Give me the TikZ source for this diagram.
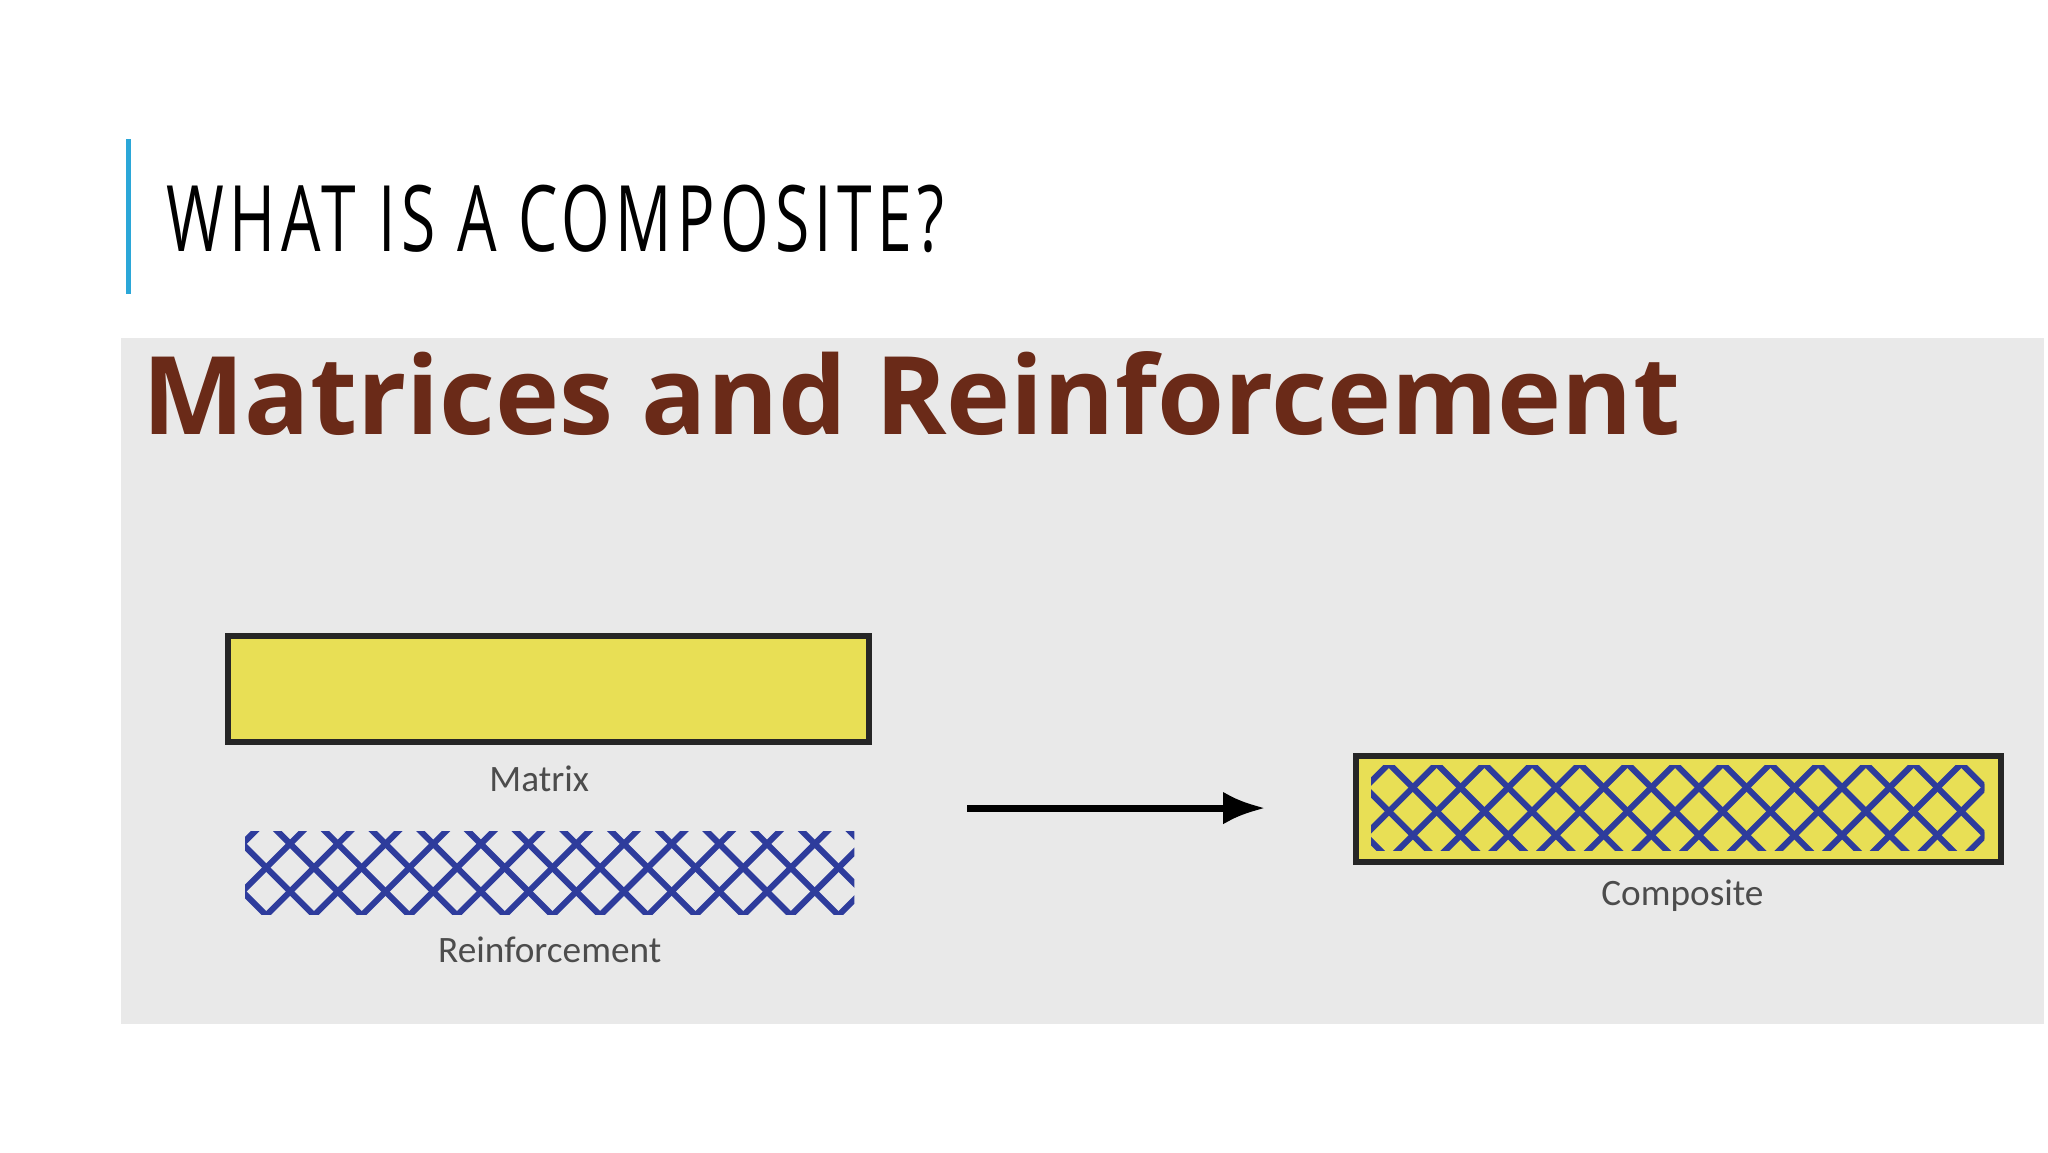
\documentclass[tikz,border=0pt]{standalone}
\usepackage{fontspec}
\usetikzlibrary{arrows.meta}
\setmainfont{Open Sans}
\newfontfamily\titlefont[FakeStretch=0.68,LetterSpace=6]{Open Sans}
\newfontfamily\lblfont{Carlito}
\definecolor{panel}{HTML}{E9E9E9}
\definecolor{mat}{HTML}{E8DF55}
\definecolor{mesh}{HTML}{2E3C9C}
\definecolor{brownt}{HTML}{6A2A18}
\definecolor{accent}{HTML}{2BA7D8}
\tikzset{
  lbl/.style={font=\lblfont\fontsize{8}{9}\selectfont,text=black!70,inner sep=0},
  matbox/.style={draw=black!85,line width=1.3pt,fill=mat,inner sep=0},
  meshline/.style={mesh,line width=1.3pt}
}
\begin{document}
\begin{tikzpicture}[x=0.01cm,y=-0.01cm]
\useasboundingbox (0,0) rectangle (1546,870);
\fill[white] (0,0) rectangle (1546,870);
\draw[accent,line width=1pt] (97,105) -- (97,222);
\node[anchor=base west,inner sep=0] (title) at (125,190) {\resizebox{5.87cm}{!}{\titlefont\fontsize{22}{24}\selectfont WHAT IS A COMPOSITE?}};
\fill[panel] (91,255) rectangle (1543,773);
\node[anchor=base west,inner sep=0,text=brownt] (head) at (107,328) {\resizebox{11.6cm}{!}{\bfseries Matrices and Reinforcement}};
\node[matbox,minimum width=4.84cm,minimum height=0.8cm] (matrix) at (414,520) {};
\node[lbl] (mlabel) at (407,588) {Matrix};
\begin{scope}
\clip (185,628) rectangle (645,690);
\foreach \i in {0,...,16} {
  \draw[meshline] (120+\i*36,700) -- (210+\i*36,610);
  \draw[meshline] (120+\i*36,610) -- (210+\i*36,700);
}
\end{scope}
\coordinate (reinf) at (415,659);
\node[lbl] (rlabel) at (415,717) {Reinforcement};
\node[matbox,minimum width=4.86cm,minimum height=0.8cm] (comp) at (1267,611) {};
\begin{scope}
\clip (1035,578) rectangle (1498,642);
\foreach \i in {0,...,16} {
  \draw[meshline] (970+\i*36,655) -- (1055+\i*36,570);
  \draw[meshline] (970+\i*36,570) -- (1055+\i*36,655);
}
\end{scope}
\node[lbl] (clabel) at (1270,676) {Composite};
\coordinate (a1) at (730,610);
\coordinate (a2) at (955,610);
\draw[line width=1.5pt,-{Latex[length=9pt,width=7pt]}] (a1) -- (a2);
\end{tikzpicture}
\end{document}
